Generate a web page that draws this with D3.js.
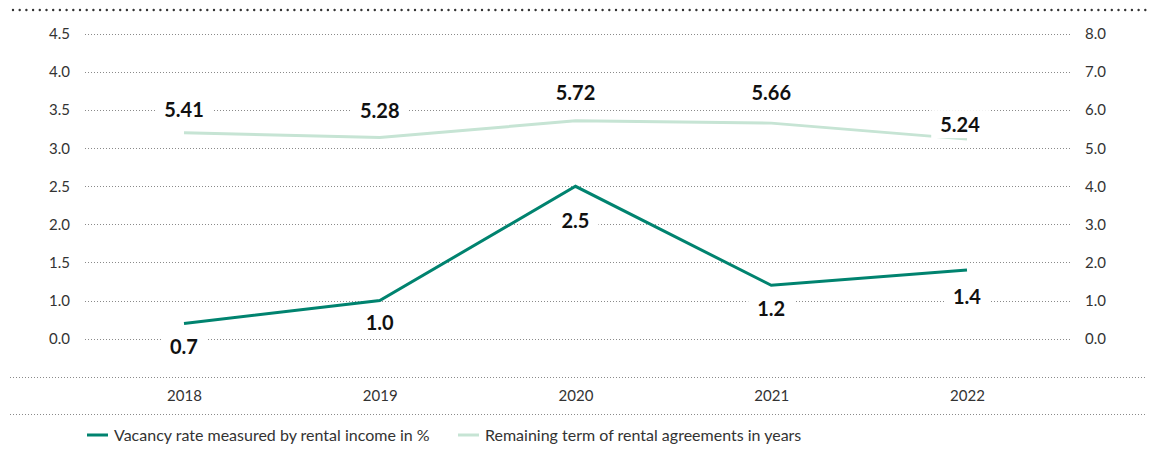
<!DOCTYPE html>
<html>
<head>
<meta charset="utf-8">
<script src="https://cdn.jsdelivr.net/npm/d3@7"></script>
<style>
  html, body { margin: 0; padding: 0; background: #fff; }
  svg { display: block; font-family: Lato, "Open Sans", sans-serif; }
</style>
</head>
<body>
<div id="chart"></div>
<script>
// data
const years = ["2018", "2019", "2020", "2021", "2022"];
const vacancyRate = [0.7, 1.0, 2.5, 1.2, 1.4];
const remainingTerm = [5.41, 5.28, 5.72, 5.66, 5.24];
const leftTickValues = [0.5, 1.0, 1.5, 2.0, 2.5, 3.0, 3.5, 4.0, 4.5];
const leftTickLabels = ["0.0", "1.0", "1.5", "2.0", "2.5", "3.0", "3.5", "4.0", "4.5"];
const rightTickValues = [0, 1, 2, 3, 4, 5, 6, 7, 8];
const legendLabels = ["Vacancy rate measured by rental income in %", "Remaining term of rental agreements in years"];

// layout
const W = 1159, H = 451;
const GRID_X0 = 85, GRID_X1 = 1070;
const COLORS = { vacancy: "#00836f", term: "#c6e4d4", text: "#333", label: "#111", grid: "#8a8a8a" };
// nudges for data labels (px from point, centre of label)
const vacancyLabelDy = [24, 22, 35, 24, 27];
const termLabelDy = [-23, -27, -28, -30, -14];
const termLabelDx = [0, 0, 0, 0, -7];

const svg = d3.select("#chart").append("svg")
  .attr("width", W).attr("height", H);

const x = d3.scalePoint().domain(years).range([184, 967]);
const yLeft = d3.scaleLinear().domain([0, 4.5]).range([376.7, 34]);
const yRight = d3.scaleLinear().domain([0, 8]).range([338.7, 34]);

// top heavy dotted rule
svg.append("line")
  .attr("x1", 13).attr("x2", 1147).attr("y1", 10).attr("y2", 10)
  .attr("stroke", "#333").attr("stroke-width", 2.4)
  .attr("stroke-linecap", "round").attr("stroke-dasharray", "0,6.7");

// grid
svg.append("g").selectAll("line")
  .data(leftTickValues).enter().append("line")
  .attr("x1", GRID_X0).attr("x2", GRID_X1)
  .attr("y1", d => Math.round(yLeft(d)) + 0.5).attr("y2", d => Math.round(yLeft(d)) + 0.5)
  .attr("stroke", COLORS.grid).attr("stroke-width", 1).attr("stroke-dasharray", "1,2");

// left axis
const leftAxis = d3.axisLeft(yLeft).tickValues(leftTickValues)
  .tickFormat((d, i) => leftTickLabels[i]).tickSize(0).tickPadding(0);
svg.append("g").attr("transform", "translate(70,0)").call(leftAxis)
  .call(g => g.select(".domain").remove())
  .selectAll("text").attr("font-size", 15).attr("fill", COLORS.text)
  .attr("font-family", "Lato");

// right axis
const rightAxis = d3.axisRight(yRight).tickValues(rightTickValues)
  .tickFormat(d3.format(".1f")).tickSize(0).tickPadding(0);
svg.append("g").attr("transform", "translate(1085,0)").call(rightAxis)
  .call(g => g.select(".domain").remove())
  .selectAll("text").attr("font-size", 15).attr("fill", COLORS.text)
  .attr("font-family", "Lato");

// bottom rules and x axis
[377, 414].forEach(yy => {
  svg.append("line")
    .attr("x1", 10).attr("x2", 1147).attr("y1", yy + 0.5).attr("y2", yy + 0.5)
    .attr("stroke", COLORS.grid).attr("stroke-width", 1).attr("stroke-dasharray", "1,2");
});
const xAxis = d3.axisBottom(x).tickSize(0).tickPadding(0);
svg.append("g").attr("transform", "translate(0,390)").call(xAxis)
  .call(g => g.select(".domain").remove())
  .selectAll("text").attr("font-size", 15).attr("fill", COLORS.text)
  .attr("font-family", "Lato");

// lines
const termLine = d3.line().x((d, i) => x(years[i])).y(d => yRight(d));
const vacLine = d3.line().x((d, i) => x(years[i])).y(d => yLeft(d));

svg.append("path").datum(remainingTerm)
  .attr("d", termLine).attr("fill", "none")
  .attr("stroke", COLORS.term).attr("stroke-width", 3);
svg.append("path").datum(vacancyRate)
  .attr("d", vacLine).attr("fill", "none")
  .attr("stroke", COLORS.vacancy).attr("stroke-width", 3);

// data labels with white boxes
function addLabels(values, scale, dys, dxs, fmt) {
  const g = svg.append("g");
  values.forEach((v, i) => {
    const cx = x(years[i]) + (dxs ? dxs[i] : 0);
    const cy = scale(v) + dys[i];
    const lg = g.append("g");
    const t = lg.append("text")
      .attr("x", cx).attr("y", cy).attr("dy", "0.35em")
      .attr("text-anchor", "middle")
      .attr("font-family", "Lato").attr("font-weight", "bold")
      .attr("font-size", 20).attr("fill", COLORS.label)
      .text(fmt(v));
    const bb = t.node().getBBox();
    lg.insert("rect", "text")
      .attr("x", bb.x - 9).attr("y", bb.y - 2)
      .attr("width", bb.width + 18).attr("height", bb.height + 4)
      .attr("fill", "#fff");
  });
}
addLabels(remainingTerm, yRight, termLabelDy, termLabelDx, d3.format(".2f"));
addLabels(vacancyRate, yLeft, vacancyLabelDy, null, d3.format(".1f"));

// legend
const legendItems = [
  { label: legendLabels[0], color: COLORS.vacancy, x0: 87 },
  { label: legendLabels[1], color: COLORS.term, x0: 458 }
];
const lg = svg.append("g").attr("transform", "translate(0,435)");
legendItems.forEach(it => {
  lg.append("line").attr("x1", it.x0).attr("x2", it.x0 + 21)
    .attr("y1", 0).attr("y2", 0)
    .attr("stroke", it.color).attr("stroke-width", 3);
  lg.append("text").attr("x", it.x0 + 27).attr("y", 0).attr("dy", "0.35em")
    .attr("font-family", "Lato").attr("font-size", 16).attr("fill", COLORS.text)
    .text(it.label);
});
</script>
</body>
</html>
